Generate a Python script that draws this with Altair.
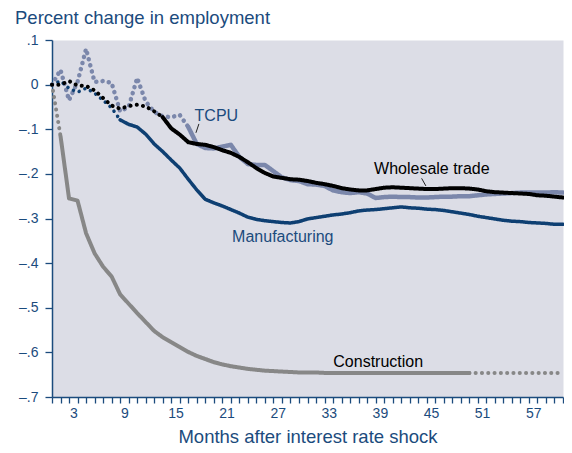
import altair as alt
import pandas as pd

months = list(range(0, 61))

construction = [0.0, -0.115, -0.255, -0.26, -0.333, -0.378, -0.408, -0.43, -0.47, -0.491,
                -0.512, -0.532, -0.552, -0.566, -0.577, -0.588, -0.599, -0.608, -0.615, -0.622,
                -0.627, -0.631, -0.634, -0.637, -0.639, -0.641, -0.642, -0.643, -0.644, -0.645,
                -0.645, -0.645, -0.646, -0.646, -0.646, -0.646, -0.646, -0.646, -0.646, -0.646,
                -0.646, -0.646, -0.646, -0.646, -0.646, -0.646, -0.646, -0.646, -0.646, -0.646,
                -0.646, -0.646, -0.646, -0.646, -0.646, -0.646, -0.646, -0.646, -0.646, -0.646,
                -0.646]

tcpu = [0.0, 0.033, -0.035, 0.006, 0.08, 0.006, 0.008, 0.004, -0.06, -0.05,
        0.015, -0.038, -0.061, -0.071, -0.073, -0.068, -0.095, -0.133, -0.142, -0.143,
        -0.139, -0.135, -0.162, -0.178, -0.18, -0.18, -0.194, -0.208, -0.214, -0.216,
        -0.223, -0.224, -0.227, -0.237, -0.241, -0.243, -0.241, -0.244, -0.254, -0.252,
        -0.251, -0.252, -0.252, -0.253, -0.253, -0.252, -0.251, -0.251, -0.25, -0.25,
        -0.248, -0.246, -0.245, -0.244, -0.243, -0.242, -0.242, -0.242, -0.242, -0.241,
        -0.242]

manufacturing = [0.0, 0.008, -0.008, -0.017, -0.008, -0.019, -0.035, -0.052, -0.079, -0.089,
                 -0.095, -0.111, -0.133, -0.15, -0.169, -0.187, -0.212, -0.236, -0.257, -0.265,
                 -0.272, -0.28, -0.288, -0.297, -0.302, -0.305, -0.307, -0.309, -0.31, -0.307,
                 -0.301, -0.298, -0.295, -0.292, -0.29, -0.287, -0.283, -0.281, -0.28, -0.278,
                 -0.276, -0.274, -0.276, -0.277, -0.279, -0.28, -0.282, -0.285, -0.288, -0.291,
                 -0.295, -0.298, -0.301, -0.304, -0.306, -0.307, -0.309, -0.31, -0.311, -0.313,
                 -0.313]

wholesale = [0.0, 0.0, 0.008, -0.002, -0.003, -0.013, -0.03, -0.047, -0.054, -0.048,
             -0.045, -0.049, -0.06, -0.073, -0.098, -0.112, -0.129, -0.133, -0.135, -0.14,
             -0.147, -0.153, -0.162, -0.174, -0.187, -0.198, -0.206, -0.209, -0.212, -0.213,
             -0.216, -0.22, -0.223, -0.227, -0.232, -0.235, -0.237, -0.237, -0.234, -0.231,
             -0.23, -0.231, -0.232, -0.233, -0.234, -0.234, -0.233, -0.232, -0.232, -0.233,
             -0.235, -0.239, -0.241, -0.242, -0.243, -0.244, -0.245, -0.248, -0.249, -0.251,
             -0.253]

series_names = ["Construction", "TCPU", "Manufacturing", "Wholesale trade"]
series_values = [construction, tcpu, manufacturing, wholesale]
series_colors = ["#878787", "#7b87ab", "#0e3f72", "#000000"]
series_widths = [4, 4.5, 3.5, 4]
# (first month, last month, style) of each piece of a series
series_pieces = [
    [(0, 1, "dotted"), (1, 49, "solid"), (49, 60, "dotted")],
    [(0, 16, "dotted"), (16, 60, "solid")],
    [(0, 8, "dotted"), (8, 60, "solid")],
    [(0, 13, "dotted"), (13, 60, "solid")],
]

label_texts = ["TCPU", "Manufacturing", "Wholesale trade", "Construction"]
label_months = [19.3, 27.1, 44.6, 38.3]
label_values = [-0.0815, -0.353, -0.2005, -0.633]
label_colors = ["#1b4b7d", "#1b4b7d", "#000000", "#000000"]

leader_m1 = [17.25, 43.4]
leader_m2 = [16.9, 43.9]
leader_v1 = [-0.088, -0.21]
leader_v2 = [-0.108, -0.227]

x_minor = list(range(0, 61))
x_label_pos = [2.5, 8.5, 14.5, 20.5, 26.5, 32.5, 38.5, 44.5, 50.5, 56.5]
y_ticks = [0.1, 0.0, -0.1, -0.2, -0.3, -0.4, -0.5, -0.6, -0.7]

BLUE = "#1b4b7d"
FONT = "Liberation Sans"

rows = []
for name, vals, pieces in zip(series_names, series_values, series_pieces):
    for i, (a, b, style) in enumerate(pieces):
        for m in range(a, b + 1):
            rows.append({"month": months[m], "value": vals[m], "series": name,
                         "seg": f"{name}-{i}", "style": style})
df = pd.DataFrame(rows)

labels_df = pd.DataFrame({"text": label_texts, "month": label_months,
                          "value": label_values, "color": label_colors})
leader_df = pd.DataFrame({"month": leader_m1, "month2": leader_m2,
                          "value": leader_v1, "value2": leader_v2})

xscale = alt.Scale(domain=[0, 60], nice=False, zero=False)
yscale = alt.Scale(domain=[-0.7, 0.1], nice=False, zero=False)

xaxis = alt.Axis(
    values=x_minor + x_label_pos,
    title="Months after interest rate shock",
    labelExpr="datum.value % 1 == 0.5 ? toString(datum.value + 0.5) : ''",
    tickOpacity={"condition": {"test": "datum.value % 1 != 0", "value": 0}, "value": 1},
    labelOverlap=False, grid=False, tickSize=6, labelPadding=3,
    labelFontSize=14, labelColor=BLUE, labelFont=FONT,
    domainColor=BLUE, tickColor=BLUE, domainWidth=1.5, tickWidth=1.3,
    titleFontSize=18.5, titleColor=BLUE, titleFont=FONT, titleFontWeight="normal",
    titlePadding=7,
)
yaxis = alt.Axis(
    values=y_ticks, title=None, grid=False,
    labelExpr="datum.value == 0 ? '0' : (datum.value > 0 ? '.' : '\u2013.') + toString(round(abs(datum.value) * 10))",
    tickSize=7, labelPadding=7, labelFontSize=14, labelColor=BLUE, labelFont=FONT,
    domainColor=BLUE, tickColor=BLUE, domainWidth=1.5, tickWidth=1.3,
)

X = alt.X("month:Q", scale=xscale, axis=xaxis)
Y = alt.Y("value:Q", scale=yscale, axis=yaxis)

layers = []
for name, color, width in zip(series_names, series_colors, series_widths):
    layers.append(
        alt.Chart(df).transform_filter(alt.datum.series == name)
        .mark_line(color=color, strokeWidth=width, strokeCap="round", strokeJoin="round")
        .encode(
            x=X, y=Y, detail="seg:N", order="month:Q",
            strokeDash=alt.StrokeDash("style:N", scale=alt.Scale(domain=["solid", "dotted"],
                                      range=[[1, 0], [0.1, 6.2]]), legend=None),
        )
    )

leaders = alt.Chart(leader_df).mark_rule(color="#222222", strokeWidth=1).encode(
    x=X, x2="month2:Q", y=Y, y2="value2:Q")

texts = alt.Chart(labels_df).mark_text(
    font=FONT, fontSize=16, align="center", baseline="alphabetic"
).encode(x=X, y=Y, text="text:N", color=alt.Color("color:N", scale=None))

chart = alt.layer(*layers, leaders, texts).properties(
    width=511, height=357,
    padding={"left": 44, "top": 32, "right": 1, "bottom": 52},
    autosize=alt.AutoSizeParams(type="none"),
    title=alt.TitleParams("Percent change in employment", anchor="start", frame="group",
                          dx=-37, dy=8, fontSize=18.5, color=BLUE, font=FONT,
                          fontWeight="normal", offset=14),
).configure_view(fill="#dcdde6", stroke="transparent")

chart.save("out.html", embed_options={"renderer": "svg", "actions": False})
